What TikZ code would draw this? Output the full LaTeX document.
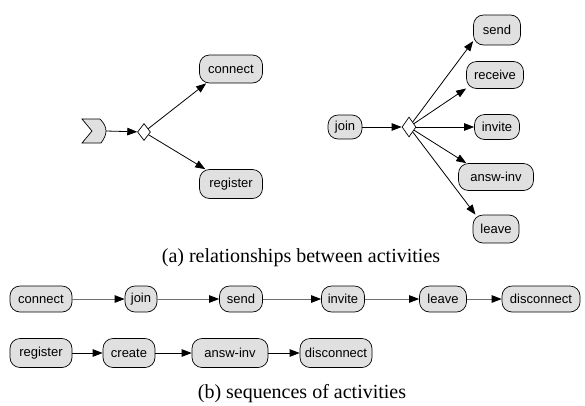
\documentclass[tikz,border=0pt]{standalone}
\usepackage{fontspec}
\setmainfont{Liberation Serif}
\setsansfont{Liberation Sans}
\usetikzlibrary{shapes.geometric,arrows.meta}
\definecolor{actfill}{HTML}{E0E0E0}
\definecolor{seqgray}{HTML}{707070}
\begin{document}
\begin{tikzpicture}[x=1pt,y=-1pt,
  act/.style={draw, fill=actfill, rounded corners=10pt, inner sep=1pt, line width=0.7pt,
    font=\sffamily\fontsize{13}{15}\selectfont},
  decbox/.style={draw, fill=white, diamond, inner sep=0pt, line width=0.7pt},
  arr/.style={-{Triangle[length=10pt,width=7.5pt,color=black]}, line width=0.8pt},
  garr/.style={arr, draw=seqgray},
  captext/.style={font=\fontsize{20}{24}\selectfont, anchor=base}]
\useasboundingbox (0,0) rectangle (585,405);

% (a) left group
\draw[fill=actfill, line width=0.7pt] (82,119) -- (100,119)
  .. controls (104,123) and (106,127) .. (106,131)
  .. controls (106,135) and (104,139) .. (101,143) -- (82,143) -- (92,131) -- cycle;
\coordinate (st) at (106,131);
\node[decbox, minimum width=13pt, minimum height=17pt] (d1) at (144,132) {};
\node[act, minimum width=63pt, minimum height=28pt] (conA) at (231,69) {connect};
\node[act, minimum width=63pt, minimum height=29pt] (regA) at (231,184) {register};
\draw[arr] (st) -- (d1);
\draw[arr] (d1) -- (conA.210);
\draw[arr] (d1) -- (regA.150);

% (a) right group
\node[act, minimum width=34pt, minimum height=24pt] (joinA) at (345,127) {join};
\node[decbox, minimum width=14pt, minimum height=20pt] (d2) at (409,127) {};
\node[act, minimum width=47pt, minimum height=30pt] (sendA) at (497,30) {send};
\node[act, minimum width=57pt, minimum height=27pt] (recA) at (495,75) {receive};
\node[act, minimum width=45pt, minimum height=25pt] (invA) at (497,127) {invite};
\node[act, minimum width=75pt, minimum height=27pt] (ansA) at (496,177) {answ-inv};
\node[act, minimum width=46pt, minimum height=28pt] (leaA) at (496,229) {leave};
\draw[arr] (joinA) -- (d2);
\draw[arr] (d2) -- (sendA.205);
\draw[arr] (d2) -- (recA.205);
\draw[arr] (d2) -- (invA.west);
\draw[arr] (d2) -- (ansA.155);
\draw[arr] (d2) -- (leaA.145);

\node[captext] (capa) at (301,262) {(a) relationships between activities};

% (b) row 1
\node[act, minimum width=62pt, minimum height=26pt] (b1) at (41,299) {connect};
\node[act, minimum width=32pt, minimum height=26pt] (b2) at (141,299) {join};
\node[act, minimum width=43pt, minimum height=26pt] (b3) at (241,299) {send};
\node[act, minimum width=43pt, minimum height=26pt] (b4) at (343,299) {invite};
\node[act, minimum width=47pt, minimum height=26pt] (b5) at (443,299) {leave};
\node[act, minimum width=78pt, minimum height=26pt] (b6) at (541,299) {disconnect};
\draw[garr] (b1) -- (b2);
\draw[garr] (b2) -- (b3);
\draw[garr] (b3) -- (b4);
\draw[garr] (b4) -- (b5);
\draw[garr] (b5) -- (b6);

% (b) row 2
\node[act, minimum width=62pt, minimum height=29pt] (c1) at (41,353) {register};
\node[act, minimum width=52pt, minimum height=29pt] (c2) at (129,353) {create};
\node[act, minimum width=76pt, minimum height=29pt] (c3) at (230,353) {answ-inv};
\node[act, minimum width=72pt, minimum height=29pt] (c4) at (336,353) {disconnect};
\draw[arr] (c1) -- (c2);
\draw[arr] (c2) -- (c3);
\draw[arr] (c3) -- (c4);

\node[captext] (capb) at (302,398) {(b) sequences of activities};
\end{tikzpicture}
\end{document}
